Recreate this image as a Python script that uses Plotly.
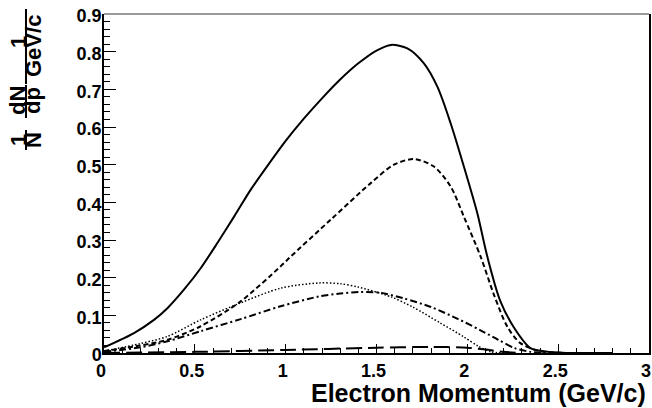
import plotly.graph_objects as go

# ---- data ----
solid_x = [0.0, 0.165, 0.275, 0.349, 0.44, 0.532, 0.624, 0.716, 0.807, 0.9, 1.0, 1.1, 1.2, 1.3, 1.4, 1.5, 1.58, 1.67, 1.761, 1.835, 1.908, 1.981, 2.055, 2.11, 2.18, 2.26, 2.35, 2.45, 2.6, 2.8]
solid_y = [0.015, 0.053, 0.088, 0.119, 0.168, 0.225, 0.292, 0.362, 0.433, 0.497, 0.563, 0.622, 0.676, 0.726, 0.769, 0.803, 0.818, 0.809, 0.769, 0.707, 0.61, 0.495, 0.371, 0.256, 0.14, 0.065, 0.012, 0.003, 0.0, 0.0]

dash_x = [0.0, 0.2, 0.349, 0.532, 0.752, 0.972, 1.028, 1.248, 1.468, 1.596, 1.706, 1.816, 1.908, 1.981, 2.073, 2.15, 2.22, 2.29, 2.4, 2.6]
dash_y = [0.005, 0.02, 0.035, 0.071, 0.137, 0.23, 0.256, 0.354, 0.451, 0.50, 0.515, 0.495, 0.442, 0.362, 0.256, 0.15, 0.07, 0.027, 0.005, 0.0]

dot_x = [0.0, 0.2, 0.349, 0.532, 0.752, 0.972, 1.183, 1.3, 1.4, 1.58, 1.70, 1.85, 1.98, 2.06, 2.13, 2.2]
dot_y = [0.005, 0.025, 0.044, 0.088, 0.133, 0.172, 0.186, 0.184, 0.175, 0.149, 0.122, 0.08, 0.043, 0.018, 0.003, 0.0]

dashdot_x = [0.0, 0.2, 0.349, 0.532, 0.752, 0.972, 1.183, 1.3, 1.41, 1.52, 1.65, 1.80, 1.95, 2.07, 2.17, 2.26, 2.35, 2.5]
dashdot_y = [0.003, 0.015, 0.031, 0.058, 0.09, 0.124, 0.15, 0.158, 0.162, 0.16, 0.145, 0.122, 0.09, 0.061, 0.035, 0.013, 0.003, 0.0]

longdash_x = [0.0, 0.5, 1.0, 1.5, 1.8, 2.0, 2.1, 2.2, 2.3]
longdash_y = [0.0, 0.003, 0.008, 0.014, 0.016, 0.014, 0.009, 0.003, 0.0]

x_ticks = [0, 0.5, 1, 1.5, 2, 2.5, 3]
x_ticklabels = ["0", "0.5", "1", "1.5", "2", "2.5", "3"]
y_ticks = [0, 0.1, 0.2, 0.3, 0.4, 0.5, 0.6, 0.7, 0.8, 0.9]
y_ticklabels = ["0", "0.1", "0.2", "0.3", "0.4", "0.5", "0.6", "0.7", "0.8", "0.9"]

# ---- layout geometry (window pixels; body margin removed by post_script) ----
W, H = 652, 408
X0, X1, Y0, Y1 = 104, 649, 14, 353          # plot area in window pixels
ML, MT = X0, Y0
MR, MB = W - X1, H - Y1

def px(xw):
    return (xw - X0) / (X1 - X0)

def py(yw):
    return (Y1 - yw) / (Y1 - Y0)

FONT = "Liberation Sans, Arial, Helvetica, sans-serif"

fig = go.Figure()
series = [
    (solid_x, solid_y, "solid", 2),
    (dash_x, dash_y, "5px,3px", 2),
    (dot_x, dot_y, "1.5px,2px", 1.5),
    (dashdot_x, dashdot_y, "7px,3px,2px,3px", 2),
    (longdash_x, longdash_y, "16px,6px", 2),
]
for xs, ys, dash, w in series:
    fig.add_trace(go.Scatter(x=xs, y=ys, mode="lines",
                             line=dict(color="black", width=w, dash=dash, shape="spline", smoothing=0.8),
                             showlegend=False, hoverinfo="skip"))

tickfont = dict(family=FONT, size=18, color="black", weight="bold")
fig.update_xaxes(range=[0, 3], tickvals=x_ticks, ticktext=x_ticklabels,
                 ticks="inside", ticklen=9, tickwidth=1, tickcolor="black",
                 minor=dict(dtick=0.1, ticks="inside", ticklen=5, tickcolor="black", tickwidth=1),
                 showline=True, linecolor="black", linewidth=2, mirror=False,
                 showgrid=False, zeroline=False, tickfont=tickfont,
                 ticklabelshift=-3,
                 ticklabeloverflow="allow", automargin=False)
fig.update_yaxes(range=[0, 0.9], tickvals=y_ticks, ticktext=y_ticklabels,
                 ticks="inside", ticklen=12, tickwidth=1, tickcolor="black",
                 minor=dict(dtick=0.02, ticks="inside", ticklen=6, tickcolor="black", tickwidth=1),
                 showline=True, linecolor="black", linewidth=1.5, mirror=True,
                 showgrid=False, zeroline=False, tickfont=tickfont,
                 ticklabelstandoff=-3, ticklabelshift=2,
                 ticklabeloverflow="allow", automargin=False)

title_font = dict(family=FONT, size=25, color="black", weight="bold")
lab_font = dict(family=FONT, size=22, color="black", weight="bold")
annots = [
    dict(text="Electron Momentum (GeV/c)", x=px(648), y=py(393), xanchor="right", yanchor="middle", font=title_font),
    dict(text="1", x=px(18), y=py(140), textangle=-90, font=lab_font),
    dict(text="dN", x=px(18), y=py(101), textangle=-90, font=lab_font),
    dict(text="N", x=px(33), y=py(140), textangle=-90, font=lab_font),
    dict(text="dp", x=px(33), y=py(101), textangle=-90, font=lab_font),
    dict(text="1", x=px(18), y=py(42), textangle=-90, font=lab_font),
    dict(text="GeV/c", x=px(33), y=py(46), textangle=-90, font=lab_font),
]
for a in annots:
    a.setdefault("xanchor", "center")
    a.setdefault("yanchor", "middle")
    fig.add_annotation(xref="paper", yref="paper", showarrow=False, **a)

for y0, y1 in [(130, 150), (85, 118), (9, 84)]:
    fig.add_shape(type="line", xref="paper", yref="paper", x0=px(26), x1=px(26),
                  y0=py(y0), y1=py(y1), line=dict(color="black", width=2))
# top frame line (grey)
fig.add_shape(type="line", xref="paper", yref="paper", x0=0, x1=1, y0=1, y1=1,
              line=dict(color="#777777", width=1.5))

fig.update_layout(width=W, height=H, margin=dict(l=ML, r=MR, t=MT, b=MB, pad=0),
                  plot_bgcolor="white", paper_bgcolor="white",
                  font=dict(family=FONT, color="black"))

fig.write_html("out.html", config={"displayModeBar": False},
               post_script="document.body.style.margin='0';document.documentElement.style.overflow='hidden';")
